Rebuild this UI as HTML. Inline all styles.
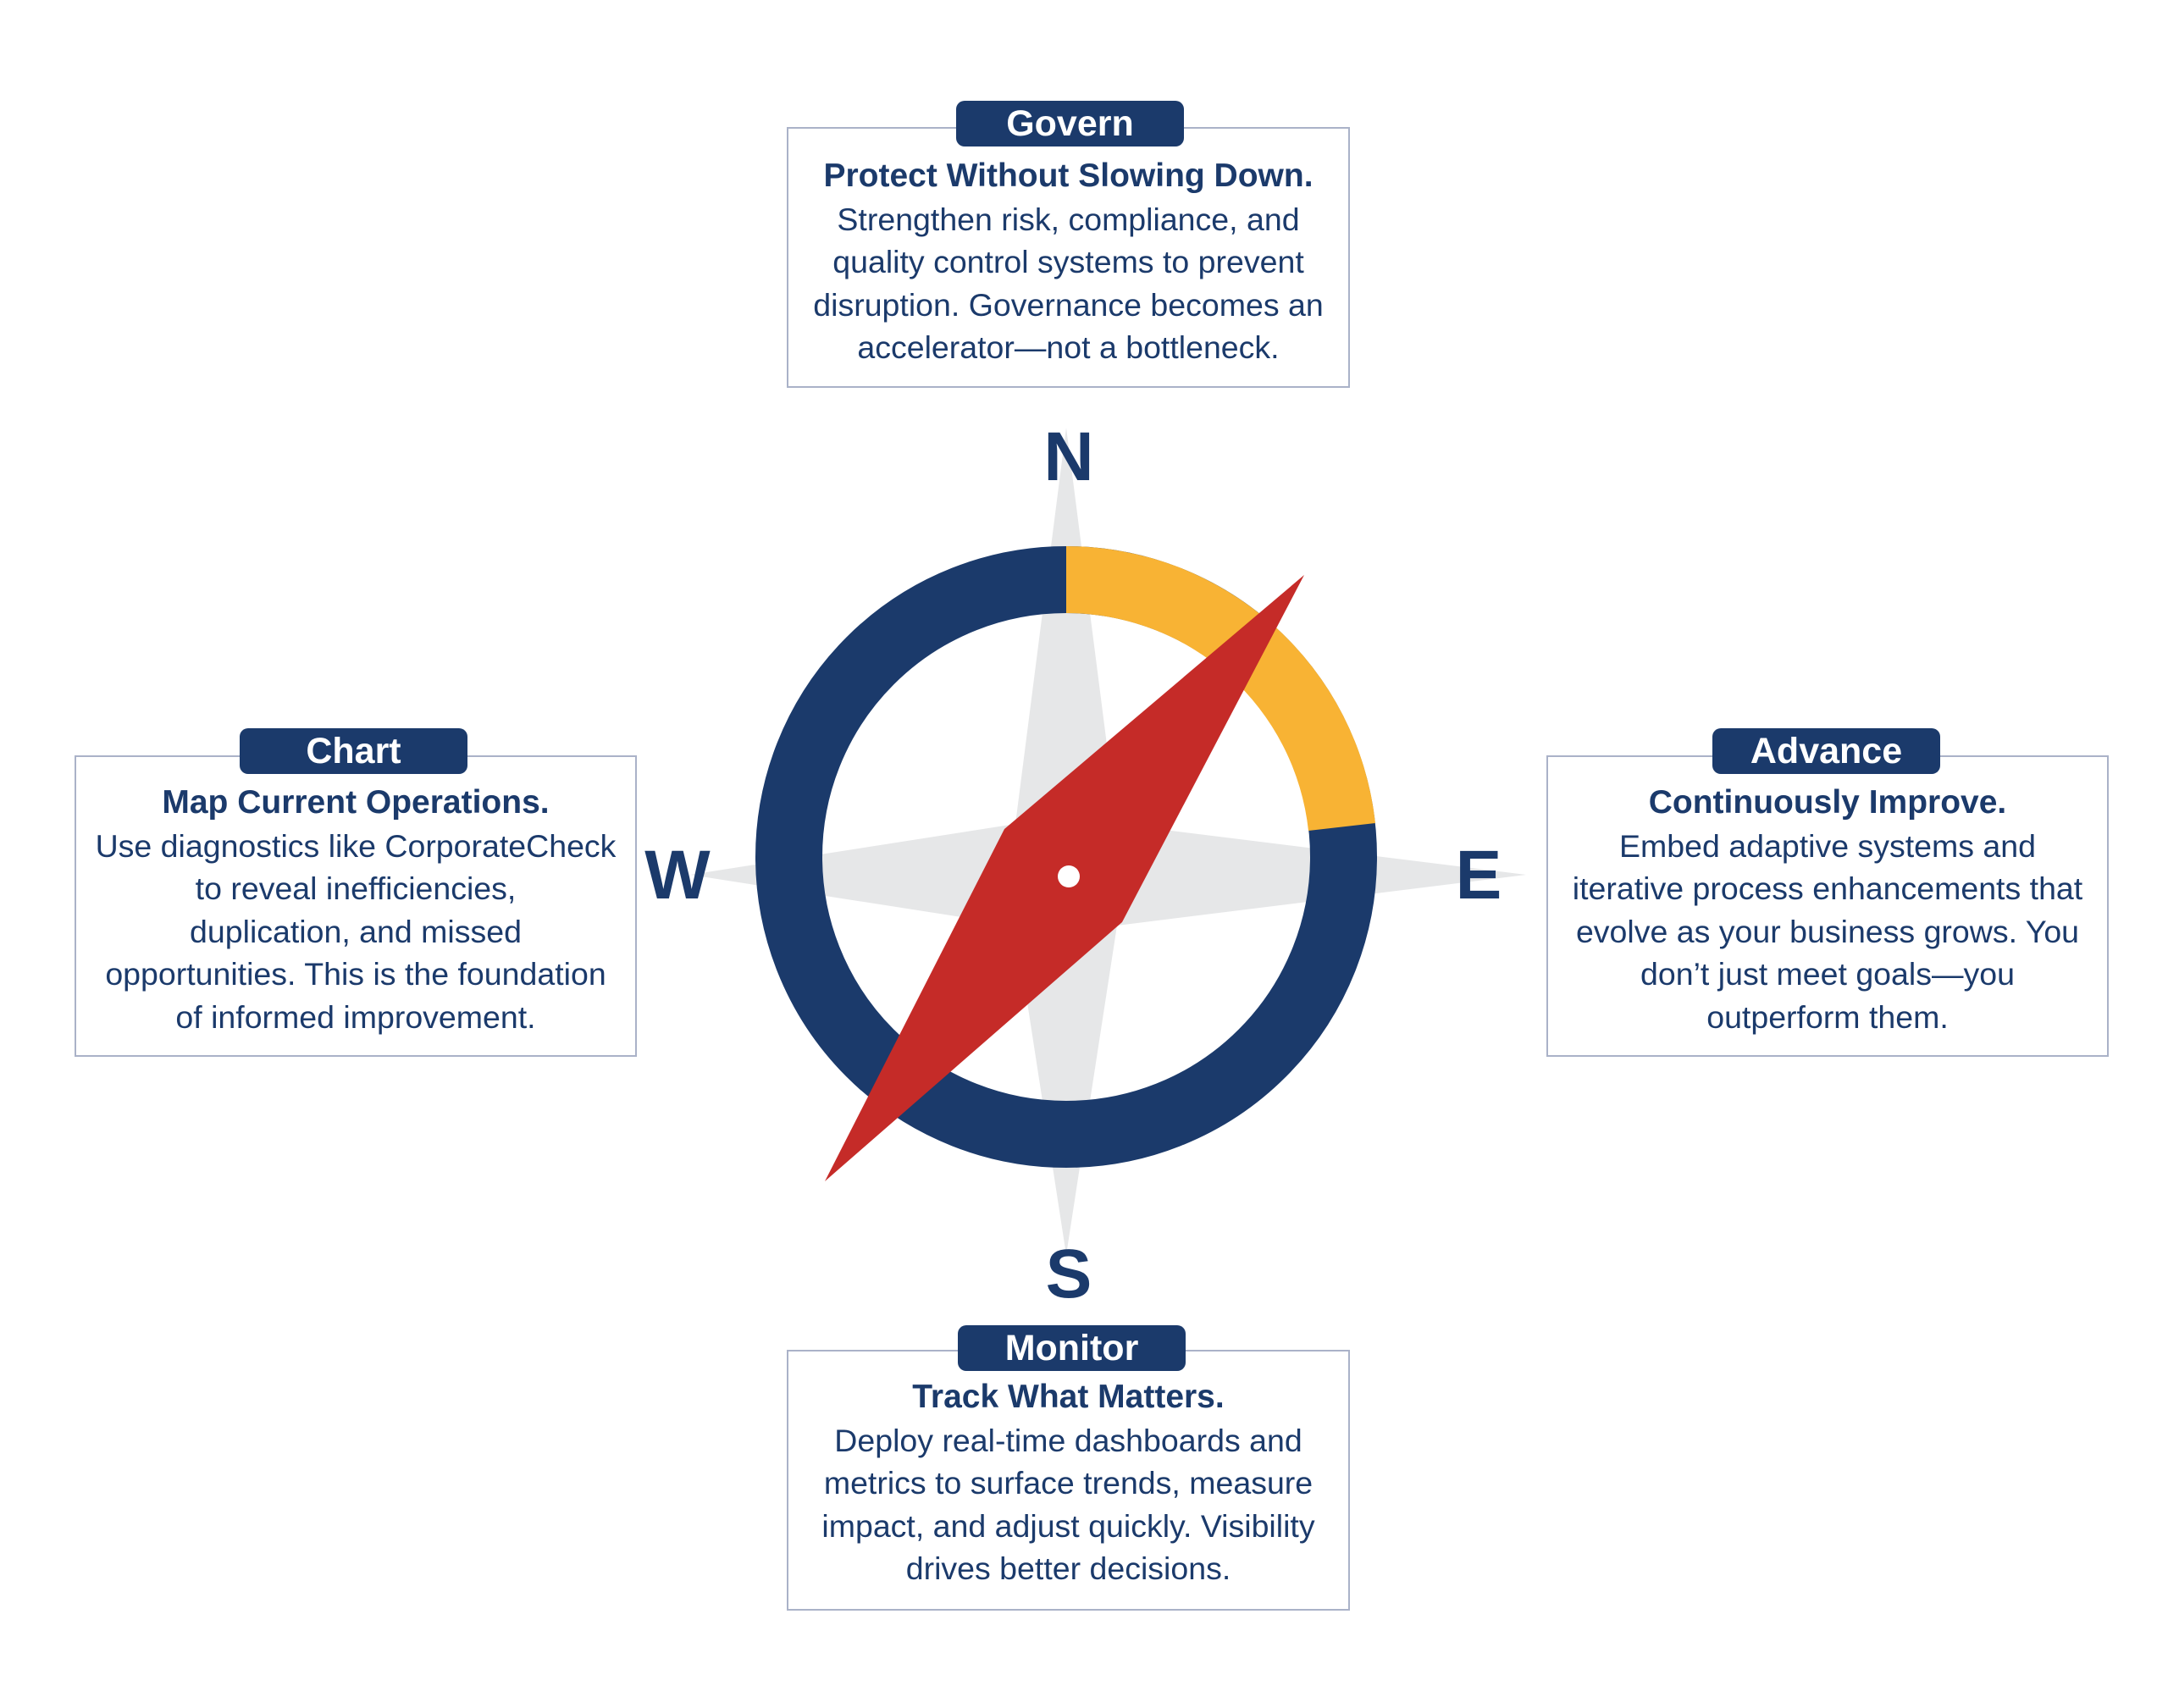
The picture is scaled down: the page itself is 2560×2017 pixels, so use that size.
<!DOCTYPE html>
<html><head><meta charset="utf-8"><style>
html,body{margin:0;padding:0;background:#fff;}
body{width:2560px;height:2017px;position:relative;overflow:hidden;font-family:"Liberation Sans",sans-serif;color:#1b3a6b;}
.box{position:absolute;border:2px solid #aab2c8;background:#fff;box-sizing:border-box;}
.pill{position:absolute;background:#1b3a6b;color:#fff;border-radius:10px;font-weight:bold;font-size:43px;text-align:center;line-height:54px;height:54px;width:269px;}
.txt{position:absolute;text-align:center;font-size:37.5px;line-height:50.5px;white-space:nowrap;}
.txt b{font-weight:bold;font-size:39px;}
</style></head><body>
<svg width="2560" height="2017" style="position:absolute;left:0;top:0">
  <polygon points="1259,505 1319,973 1802,1033 1319,1093 1259,1482 1199,1093 815,1033 1199,973" fill="#e6e7e8"/>
  <circle cx="1259" cy="1012" r="327.5" fill="none" stroke="#1b3a6b" stroke-width="79"/>
  <path d="M1259,645 A367,367 0 0 1 1624,972 L1545,981 A288,288 0 0 0 1259,724 Z" fill="#f8b334"/>
  <polygon points="1540,679 1325,1089 974,1395 1186,979" fill="#c52b28"/>
  <circle cx="1262" cy="1035" r="13" fill="#fff"/>
  <g font-family="Liberation Sans, sans-serif" font-weight="bold" font-size="82" fill="#1b3a6b" text-anchor="middle">
    <text x="1262" y="567">N</text>
    <text x="800" y="1061">W</text>
    <text x="1746" y="1061">E</text>
    <text x="1262" y="1532">S</text>
  </g>
</svg>

<div class="box" style="left:929px;top:150px;width:665px;height:308px"></div>
<div class="pill" style="left:1129px;top:119px">Govern</div>
<div class="txt" style="left:929px;width:665px;top:182px"><b>Protect Without Slowing Down.</b><br>Strengthen risk, compliance, and<br>quality control systems to prevent<br>disruption. Governance becomes an<br>accelerator—not a bottleneck.</div>

<div class="box" style="left:88px;top:892px;width:664px;height:356px"></div>
<div class="pill" style="left:283px;top:860px">Chart</div>
<div class="txt" style="left:88px;width:664px;top:922px"><b>Map Current Operations.</b><br>Use diagnostics like CorporateCheck<br>to reveal inefficiencies,<br>duplication, and missed<br>opportunities. This is the foundation<br>of informed improvement.</div>

<div class="box" style="left:1826px;top:892px;width:664px;height:356px"></div>
<div class="pill" style="left:2022px;top:860px">Advance</div>
<div class="txt" style="left:1826px;width:664px;top:922px"><b>Continuously Improve.</b><br>Embed adaptive systems and<br>iterative process enhancements that<br>evolve as your business grows. You<br>don’t just meet goals—you<br>outperform them.</div>

<div class="box" style="left:929px;top:1594px;width:665px;height:308px"></div>
<div class="pill" style="left:1131px;top:1565px">Monitor</div>
<div class="txt" style="left:929px;width:665px;top:1624px"><b>Track What Matters.</b><br>Deploy real-time dashboards and<br>metrics to surface trends, measure<br>impact, and adjust quickly. Visibility<br>drives better decisions.</div>
</body></html>
